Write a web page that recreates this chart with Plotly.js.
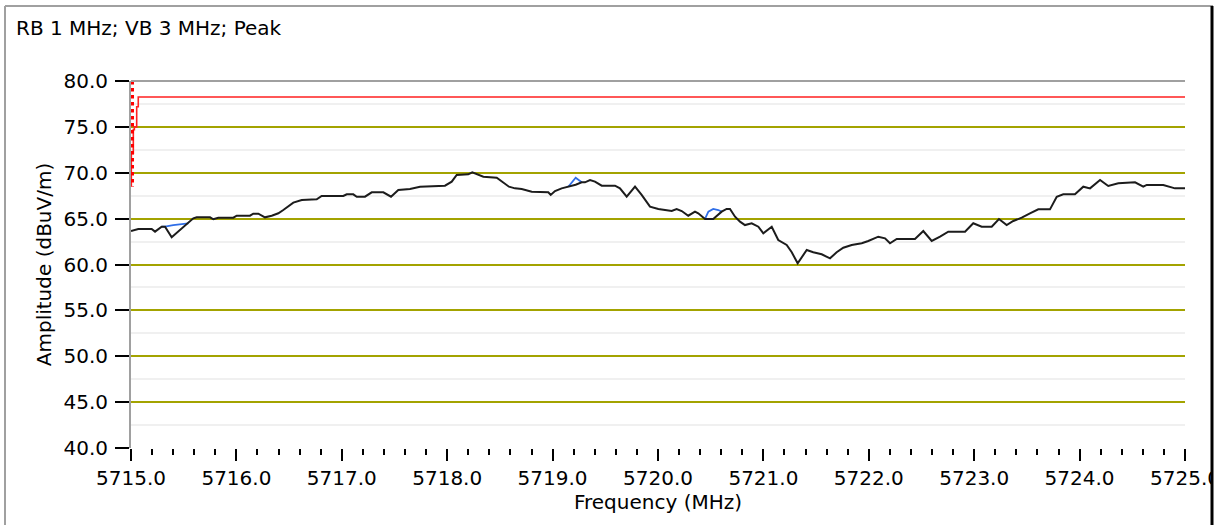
<!DOCTYPE html>
<html>
<head>
<meta charset="utf-8">
<script src="https://cdn.plot.ly/plotly-3.0.1.min.js"></script>
<style>html,body{margin:0;padding:0;background:#fff;}#chart{width:1225px;height:525px;}</style>
</head>
<body>
<div id="chart"></div>
<script>
// Measured trace (black)
var freqMHz = [5715.000,5715.069,5715.196,5715.228,5715.291,5715.323,5715.386,5715.544,5715.591,5715.623,5715.750,5715.781,5715.828,5715.971,5716.003,5716.129,5716.160,5716.208,5716.271,5716.335,5716.398,5716.445,5716.492,5716.540,5716.620,5716.762,5716.809,5717.014,5717.047,5717.109,5717.142,5717.220,5717.284,5717.394,5717.467,5717.536,5717.647,5717.742,5717.979,5718.043,5718.090,5718.200,5718.238,5718.295,5718.343,5718.470,5718.517,5718.586,5718.643,5718.707,5718.802,5718.959,5718.982,5719.023,5719.086,5719.149,5719.219,5719.276,5719.307,5719.355,5719.402,5719.466,5719.592,5719.639,5719.703,5719.782,5719.845,5719.924,5720.003,5720.130,5720.177,5720.225,5720.287,5720.351,5720.382,5720.446,5720.524,5720.604,5720.651,5720.683,5720.731,5720.778,5720.825,5720.889,5720.952,5720.999,5721.079,5721.141,5721.221,5721.269,5721.325,5721.411,5721.473,5721.553,5721.632,5721.695,5721.758,5721.838,5721.933,5721.995,5722.090,5722.154,5722.201,5722.265,5722.438,5722.517,5722.597,5722.676,5722.754,5722.913,5722.991,5723.071,5723.166,5723.235,5723.308,5723.371,5723.451,5723.529,5723.608,5723.719,5723.783,5723.845,5723.956,5724.035,5724.099,5724.194,5724.272,5724.367,5724.526,5724.604,5724.637,5724.794,5724.905,5725.000];
var ampBlack = [63.65,63.87,63.87,63.58,64.12,64.12,62.96,64.49,65.03,65.14,65.14,64.93,65.10,65.10,65.32,65.32,65.54,65.54,65.14,65.32,65.58,65.94,66.30,66.74,67.03,67.10,67.47,67.47,67.65,67.65,67.39,67.39,67.87,67.87,67.39,68.12,68.23,68.48,68.59,69.03,69.76,69.83,70.05,69.76,69.57,69.46,69.10,68.48,68.30,68.23,67.94,67.87,67.58,68.01,68.30,68.48,68.70,68.96,68.96,69.21,69.03,68.59,68.59,68.30,67.39,68.48,67.58,66.30,66.05,65.83,66.05,65.83,65.32,65.76,65.58,64.96,64.96,65.76,66.05,66.05,65.21,64.67,64.30,64.49,64.12,63.40,64.12,62.67,62.13,61.33,60.13,61.58,61.33,61.11,60.67,61.33,61.83,62.13,62.31,62.56,63.03,62.85,62.31,62.78,62.78,63.65,62.56,63.03,63.58,63.58,64.49,64.12,64.12,64.96,64.30,64.74,65.10,65.58,66.01,66.01,67.39,67.65,67.65,68.48,68.30,69.21,68.56,68.85,68.96,68.48,68.67,68.67,68.30,68.30];

// Second trace (blue), visible only where it departs from the black one
var blueFreq = [5715.291,5715.323,5715.400,5715.544,null,5719.149,5719.219,5719.276,null,5720.446,5720.478,5720.524,5720.572,5720.604];
var blueAmp  = [64.12,64.12,64.30,64.49,null,68.48,69.46,68.96,null,64.96,65.76,66.05,65.94,65.76];

// Limit line (red, solid staircase)
var limitFreq = [5715.003,5715.003,5715.022,5715.022,5715.032,5715.032,5715.054,5715.054,5715.069,5715.069,5725.000];
var limitAmp  = [68.5,72.1,72.1,74.7,74.7,75.0,75.0,77.2,77.2,78.25,78.25];

// Red dotted marker line
var dotFreq = [5715.012,5715.012];
var dotAmp  = [80.0,68.5];

var majorGridVals = [45,50,55,60,65,70,75];
var chartTitle = 'RB 1 MHz; VB 3 MHz; Peak';
var xTitle = 'Frequency (MHz)';
var yTitle = 'Amplitude (dBuV/m)';

var FONT = 'DejaVu Sans';
var FS = 20;

var traces = [
  {x: blueFreq, y: blueAmp, type: 'scatter', mode: 'lines', line: {color: '#2f6ee8', width: 1.8}, yaxis: 'y', connectgaps: false, hoverinfo: 'skip'},
  {x: limitFreq, y: limitAmp, type: 'scatter', mode: 'lines', line: {color: '#ff2020', width: 1.6}, yaxis: 'y', hoverinfo: 'skip'},
  {x: dotFreq, y: dotAmp, type: 'scatter', mode: 'lines', line: {color: '#ff0000', width: 3.5, dash: 'dot'}, yaxis: 'y', hoverinfo: 'skip'},
  {x: freqMHz, y: ampBlack, type: 'scatter', mode: 'lines', line: {color: '#1c1c1c', width: 2}, yaxis: 'y2', hoverinfo: 'skip'}
];

var layout = {
  width: 1225, height: 525,
  margin: {l: 131, r: 40, t: 81, b: 77},
  paper_bgcolor: '#ffffff', plot_bgcolor: '#ffffff',
  showlegend: false,
  font: {family: FONT, size: FS, color: '#000'},
  title: {text: chartTitle, xref: 'container', yref: 'container', x: 16/1225, xanchor: 'left', y: 1 - 28/525, yanchor: 'middle', font: {family: FONT, size: FS, color: '#000'}},
  xaxis: {
    range: [5715, 5725], dtick: 1, tick0: 5715, tickformat: '.1f',
    ticks: 'outside', ticklen: 12, tickwidth: 2, tickcolor: '#000',
    ticklabelstandoff: 0,
    showgrid: false, zeroline: false, showline: false,
    minor: {dtick: 0.2, ticks: 'outside', ticklen: 6, tickwidth: 2, tickcolor: '#000', showgrid: false},
    tickfont: {family: FONT, size: FS, color: '#000'},
    title: {text: xTitle, standoff: 4, font: {family: FONT, size: FS, color: '#000'}}
  },
  yaxis: {
    range: [40, 80], dtick: 5, tick0: 40, tickformat: '.1f',
    ticks: 'outside', ticklen: 14, tickwidth: 2, tickcolor: '#000',
    ticklabelstandoff: 3,
    showgrid: false, zeroline: false,
    showline: true, linecolor: '#a0a0a0', linewidth: 2,
    minor: {tick0: 2.5, dtick: 5, ticks: '', showgrid: true, gridcolor: '#f0f0f0', gridwidth: 2},
    tickfont: {family: FONT, size: FS, color: '#000'},
    title: {text: yTitle, standoff: 6, font: {family: FONT, size: FS, color: '#000'}}
  },
  yaxis2: {
    overlaying: 'y', range: [40, 80], tickmode: 'array', tickvals: majorGridVals,
    showticklabels: false, ticks: '', showgrid: true, gridcolor: '#a3a300', gridwidth: 2,
    zeroline: false, showline: false
  },
  shapes: [
    {type: 'line', xref: 'paper', yref: 'paper', x0: 0, x1: 1, y0: 1, y1: 1, line: {color: '#a0a0a0', width: 2}, layer: 'above'},
    {type: 'rect', xref: 'paper', yref: 'paper', x0: (1213 - 131)/1054, x1: (1230 - 131)/1054, y0: (448 - 530)/367, y1: (448 + 5)/367, fillcolor: '#ffffff', line: {width: 0}, layer: 'above'},
    {type: 'line', xref: 'paper', yref: 'paper', x0: (5 - 131)/1054, x1: (5 - 131)/1054, y0: (448 - 6)/367, y1: (448 - 530)/367, line: {color: '#a0a0a0', width: 2}, layer: 'above'},
    {type: 'line', xref: 'paper', yref: 'paper', x0: (5 - 131)/1054, x1: (1213 - 131)/1054, y0: (448 - 6)/367, y1: (448 - 6)/367, line: {color: '#a0a0a0', width: 2}, layer: 'above'},
    {type: 'line', xref: 'paper', yref: 'paper', x0: (1212 - 131)/1054, x1: (1212 - 131)/1054, y0: (448 - 6)/367, y1: (448 - 530)/367, line: {color: '#000000', width: 3}, layer: 'above'}
  ]
};

Plotly.newPlot('chart', traces, layout, {staticPlot: true, displayModeBar: false});
</script>
</body>
</html>
